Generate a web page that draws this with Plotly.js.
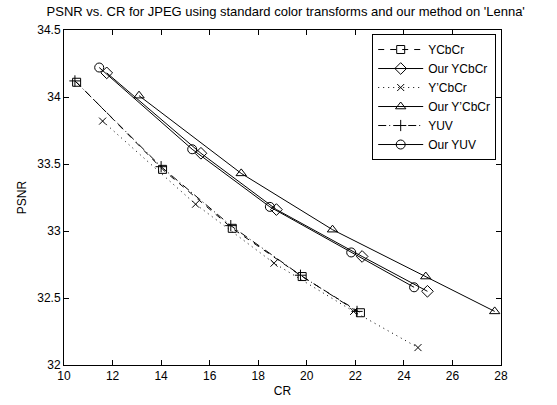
<!DOCTYPE html>
<html>
<head>
<meta charset="utf-8">
<script src="https://cdn.plot.ly/plotly-3.0.1.min.js"></script>
<style>html,body{margin:0;padding:0;background:#fff;}#chart{width:557px;height:405px;}</style>
</head>
<body>
<div id="chart"></div>
<script>
// Data
const ycbcrCR = [10.52, 14.06, 16.93, 19.81, 22.21];
const ycbcrPSNR = [34.11, 33.46, 33.02, 32.66, 32.39];
const ourYcbcrCR = [11.76, 15.64, 18.75, 22.28, 24.97];
const ourYcbcrPSNR = [34.18, 33.58, 33.16, 32.81, 32.55];
const yPrimeCR = [11.59, 15.42, 18.65, 21.93, 24.58];
const yPrimePSNR = [33.82, 33.20, 32.76, 32.40, 32.13];
const ourYPrimeCR = [13.09, 17.30, 21.06, 24.90, 27.74];
const ourYPrimePSNR = [34.01, 33.43, 33.01, 32.66, 32.40];
const yuvCR = [10.45, 14.00, 16.87, 19.74, 22.07];
const yuvPSNR = [34.12, 33.48, 33.04, 32.67, 32.40];
const ourYuvCR = [11.45, 15.28, 18.48, 21.83, 24.42];
const ourYuvPSNR = [34.22, 33.61, 33.18, 32.84, 32.58];
const seriesNames = ["YCbCr", "Our YCbCr", "Y\u2019CbCr", "Our Y\u2019CbCr", "YUV", "Our YUV"];
const xTicks = [10, 12, 14, 16, 18, 20, 22, 24, 26, 28];
const yTicks = [32, 32.5, 33, 33.5, 34, 34.5];

function tr(x, y, name, dash, symbol, size) {
  return {
    x: x, y: y, name: name, type: 'scatter', mode: 'lines+markers',
    line: {color: '#000', width: 1, dash: dash},
    marker: {symbol: symbol, size: size, color: '#000', line: {color: '#000', width: 1}}
  };
}
const data = [
  tr(ycbcrCR, ycbcrPSNR, seriesNames[0], '6px,6px', 'square-open', 8),
  tr(ourYcbcrCR, ourYcbcrPSNR, seriesNames[1], 'solid', 'diamond-open', 9),
  tr(yPrimeCR, yPrimePSNR, seriesNames[2], '1px,4px', 'x-thin-open', 7),
  tr(ourYPrimeCR, ourYPrimePSNR, seriesNames[3], 'solid', 'triangle-up-open', 9),
  tr(yuvCR, yuvPSNR, seriesNames[4], '8px,3px,1px,3px', 'cross-thin-open', 8),
  tr(ourYuvCR, ourYuvPSNR, seriesNames[5], 'solid', 'circle-open', 9)
];
const font = {family: 'Liberation Sans, Arial, sans-serif', color: '#000'};
const layout = {
  width: 557, height: 405,
  margin: {l: 64, r: 56, t: 30, b: 40},
  paper_bgcolor: '#fff', plot_bgcolor: '#fff',
  font: Object.assign({size: 12}, font),
  showlegend: true,
  title: {text: "PSNR vs. CR for JPEG using standard color transforms and our method on 'Lenna'",
          font: Object.assign({size: 13}, font), x: 0.513, xanchor: 'center', y: 0.972, yanchor: 'middle', yref: 'container'},
  xaxis: {
    range: [10, 28], tickvals: xTicks, ticktext: xTicks.map(String),
    ticks: 'inside', ticklen: 5, tickcolor: '#000', showline: true, linecolor: '#000', linewidth: 1,
    mirror: 'ticks', showgrid: false, zeroline: false,
    title: {text: 'CR', standoff: 4, font: Object.assign({size: 12}, font)},
    tickfont: Object.assign({size: 12}, font)
  },
  yaxis: {
    range: [32, 34.5], tickvals: yTicks, ticktext: yTicks.map(String),
    ticks: 'inside', ticklen: 5, tickcolor: '#000', showline: true, linecolor: '#000', linewidth: 1,
    mirror: 'ticks', showgrid: false, zeroline: false,
    title: {text: 'PSNR', standoff: 8, font: Object.assign({size: 12}, font)},
    tickfont: Object.assign({size: 12}, font)
  },
  legend: {
    x: 0.989, xanchor: 'right', y: 0.988, yanchor: 'top',
    bgcolor: '#fff', bordercolor: '#000', borderwidth: 1,
    font: Object.assign({size: 12}, font), tracegroupgap: 0, itemwidth: 45
  }
};
Plotly.newPlot('chart', data, layout, {displayModeBar: false, staticPlot: true});
</script>
</body>
</html>
